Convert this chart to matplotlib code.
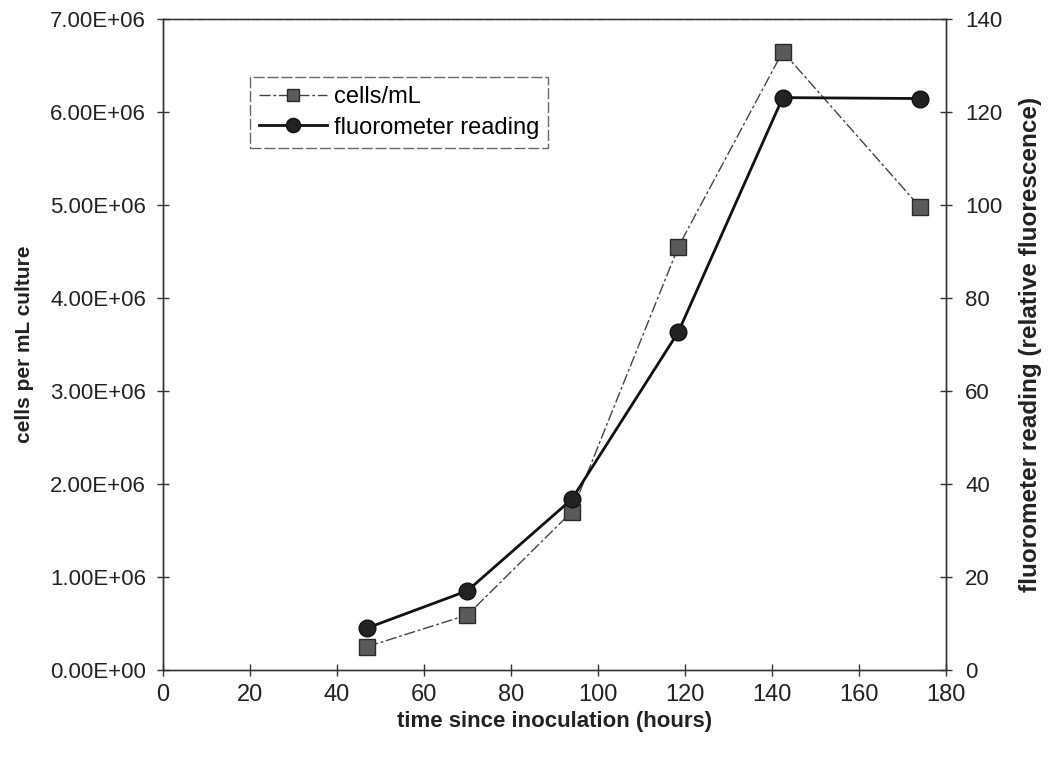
import matplotlib
matplotlib.use("Agg")
import matplotlib.pyplot as plt
from matplotlib.ticker import FuncFormatter

plt.rcParams['font.family'] = ['Liberation Sans', 'DejaVu Sans']

# Data
time_cells = [47, 70, 94, 118.5, 142.5, 174]
cells_per_ml = [0.25e6, 0.59e6, 1.70e6, 4.55e6, 6.65e6, 4.98e6]
time_fluor = [47, 70, 94, 118.5, 142.5, 174]
fluor_reading = [9.0, 17.0, 36.7, 72.7, 123.1, 122.9]

x_ticks = [0, 20, 40, 60, 80, 100, 120, 140, 160, 180]
left_ticks = [0, 1e6, 2e6, 3e6, 4e6, 5e6, 6e6, 7e6]
right_ticks = [0, 20, 40, 60, 80, 100, 120, 140]

fig = plt.figure(figsize=(10.51, 7.62), dpi=100)
ax = fig.add_axes([0.155, 0.121, 0.745, 0.854])
ax2 = ax.twinx()

l1, = ax.plot(time_cells, cells_per_ml, color='#444444', lw=1.0,
              linestyle=(0, (8, 2, 2, 2)), marker='s', markersize=11,
              markerfacecolor='#5a5a5a', markeredgecolor='#2a2a2a',
              markeredgewidth=1.0, label='cells/mL', zorder=3)
l2, = ax2.plot(time_fluor, fluor_reading, color='#111111', lw=2.0,
               linestyle='-', marker='o', markersize=12,
               markerfacecolor='#222222', markeredgecolor='#111111',
               label='fluorometer reading', zorder=4)

ax.set_xlim(0, 180)
ax.set_ylim(0, 7e6)
ax2.set_ylim(0, 140)
ax.set_xticks(x_ticks)
ax.set_yticks(left_ticks)
ax2.set_yticks(right_ticks)
ax.yaxis.set_major_formatter(FuncFormatter(lambda v, p: f"{v:.2E}"))

for a in (ax, ax2):
    for s in a.spines.values():
        s.set_color('#333333')
        s.set_linewidth(1.0)
ax.spines['top'].set_linestyle((0, (6, 2)))
ax.spines['top'].set_color('#777777')
ax.spines['bottom'].set_color('#555555')

ax.tick_params(axis='both', direction='inout', length=8, width=1.0,
               colors='#333333', labelsize=16, labelcolor='#222222')
ax.tick_params(axis='x', pad=6, labelsize=17)
ax.tick_params(axis='y', pad=8)
ax2.tick_params(axis='y', direction='inout', length=8, width=1.0,
                colors='#333333', labelsize=16, labelcolor='#222222', pad=10)

ax.set_xlabel('time since inoculation (hours)', fontsize=16,
              fontweight='bold', color='#222222', labelpad=4)
ax.set_ylabel('cells per mL culture', fontsize=15, fontweight='bold',
              color='#222222', labelpad=12)
ax2.set_ylabel('fluorometer reading (relative fluorescence)', fontsize=17.5,
               fontweight='bold', color='#222222', labelpad=12)

leg = ax.legend(handles=[l1, l2], loc='upper left',
                bbox_to_anchor=(0.111, 0.911), borderaxespad=0,
                fancybox=False, frameon=True, fontsize=17,
                handlelength=2.85, handletextpad=0.3, labelspacing=0.35,
                borderpad=0.4, markerscale=0.85)
leg.get_frame().set_edgecolor('#444444')
leg.get_frame().set_linestyle((0, (8, 2)))
leg.get_frame().set_linewidth(1.0)
leg.set_zorder(10)

fig.savefig('out.png', dpi=100)
